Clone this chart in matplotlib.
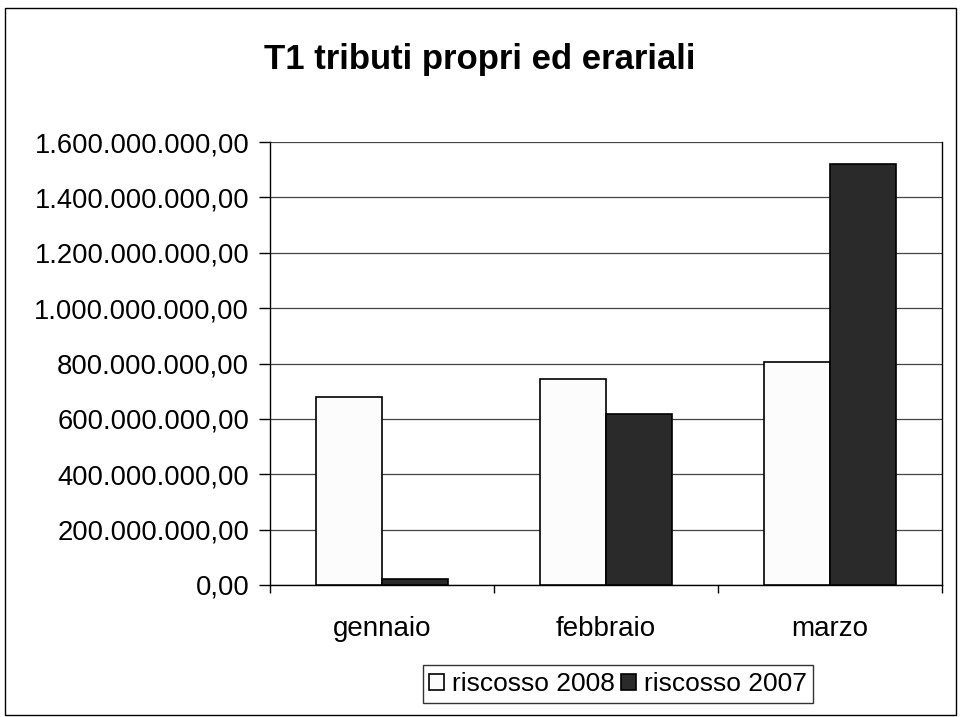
import matplotlib
matplotlib.use("Agg")
import matplotlib.pyplot as plt
from matplotlib.ticker import FuncFormatter, MultipleLocator, FixedLocator
from matplotlib.patches import Rectangle
import numpy as np

categories = ["gennaio", "febbraio", "marzo"]
riscosso_2008 = [680_000_000, 745_000_000, 805_000_000]
riscosso_2007 = [20_000_000, 617_000_000, 1_522_000_000]
series_names = ["riscosso 2008", "riscosso 2007"]
title = "T1 tributi propri ed erariali"

plt.rcParams["font.family"] = ["Liberation Sans", "DejaVu Sans"]

fig = plt.figure(figsize=(9.6, 7.17), dpi=100)
ax = fig.add_axes([270/960, 132/717, 672/960, 443/717])

x = np.arange(len(categories))
w = 0.295
ax.bar(x - w/2, riscosso_2008, width=w, color="#fcfcfc", edgecolor="black",
       linewidth=1.2, label=series_names[0], zorder=3)
ax.bar(x + w/2, riscosso_2007, width=w, color="#2a2a2a", edgecolor="black",
       linewidth=1.2, label=series_names[1], zorder=3)

ax.set_xlim(-0.5, 2.5)
ax.set_ylim(0, 1_600_000_000)
ax.yaxis.set_major_locator(MultipleLocator(200_000_000))

def it_fmt(v, pos):
    s = f"{v:,.2f}"
    return s.replace(",", "X").replace(".", ",").replace("X", ".")
ax.yaxis.set_major_formatter(FuncFormatter(it_fmt))

ax.set_xticks(x)
ax.set_xticklabels(categories)
ax.xaxis.set_minor_locator(FixedLocator([-0.5, 0.5, 1.5, 2.5]))
ax.tick_params(axis="x", which="major", length=0, pad=22, labelsize=20)
ax.tick_params(axis="x", which="minor", length=6, width=1, direction="out")
ax.tick_params(axis="y", length=8, width=1, direction="out", pad=7, labelsize=19.7)

ax.grid(axis="y", color="#444444", linewidth=0.9, zorder=0)
for s in ax.spines.values():
    s.set_color("black")
    s.set_linewidth(1.0)
ax.spines["top"].set_visible(False)

fig.text(480/960, 1 - 60/717, title, ha="center", va="center",
         fontsize=25, fontweight="bold")

leg = fig.legend(loc="center", bbox_to_anchor=(618/960, 1 - 684/717), ncol=2,
                 frameon=True, fancybox=False, edgecolor="black", fontsize=19,
                 handlelength=0.55, handleheight=0.55, handletextpad=0.3,
                 columnspacing=0.25, borderpad=0.25, borderaxespad=0)
leg.get_frame().set_linewidth(1.0)

fig.patches.append(Rectangle((5/960, 2/717), 951/960, 707/717, transform=fig.transFigure,
                             fill=False, edgecolor="black", linewidth=1.0))

fig.savefig("out.png", dpi=100)
